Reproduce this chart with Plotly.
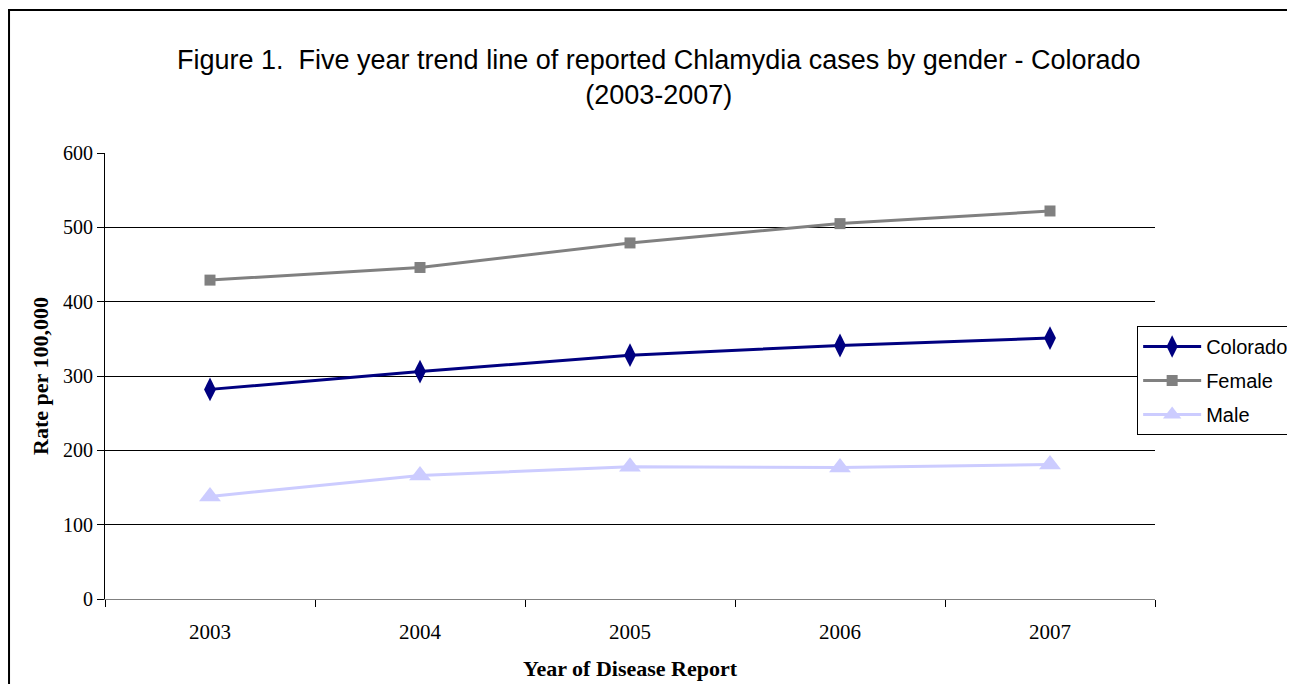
import plotly.graph_objects as go

years = ["2003", "2004", "2005", "2006", "2007"]
colorado = [282, 306, 328, 341, 351]
female = [429, 446, 479, 505, 522]
male = [138, 166, 178, 177, 181]

fig = go.Figure()

# Colorado - diamantes azul-marinho
fig.add_trace(go.Scatter(
    x=years, y=colorado, name="Colorado", mode="lines+markers", legendgroup="c",
    line=dict(color="#000080", width=3),
    marker=dict(symbol="diamond-tall", size=17, color="#000080"),
))

# Female - quadrados cinza
fig.add_trace(go.Scatter(
    x=years, y=female, name="Female", mode="lines+markers", legendgroup="f",
    line=dict(color="#808080", width=3),
    marker=dict(symbol="square", size=11, color="#808080"),
))

# Male - triangulos lilás claro
fig.add_trace(go.Scatter(
    x=years, y=male, name="Male", mode="lines+markers", legendgroup="m",
    line=dict(color="#CCCCFF", width=3),
    marker=dict(symbol="triangle-up", size=19, color="#CCCCFF"),
))

times = "Liberation Serif, Times New Roman, serif"
arial = "Liberation Sans, Arial, sans-serif"

fig.update_layout(
    width=1279,
    height=676,
    template="simple_white",
    paper_bgcolor="white",
    plot_bgcolor="white",
    margin=dict(l=97, r=132, t=145, b=85, autoexpand=False),
    showlegend=True,
    xaxis=dict(
        type="category",
        range=[-0.5, 4.5],
        automargin=False,
        tickson="boundaries",
        ticks="outside",
        ticklen=7,
        tickcolor="#000000",
        ticklabelstandoff=14,
        showline=True,
        linecolor="#808080",
        linewidth=1,
        showgrid=False,
        tickfont=dict(family=times, size=21, color="black"),
        title=dict(text="<b>Year of Disease Report</b>",
                   font=dict(family=times, size=22, color="black"), standoff=17),
    ),
    yaxis=dict(
        range=[0, 600],
        automargin=False,
        tickvals=[0, 100, 200, 300, 400, 500, 600],
        ticks="outside",
        ticklen=7,
        tickcolor="#000000",
        showline=True,
        linecolor="#000000",
        linewidth=1,
        showgrid=True,
        gridcolor="#000000",
        gridwidth=1,
        zeroline=False,
        tickfont=dict(family=times, size=20, color="black"),
        title=dict(text="<b>Rate per 100,000</b>",
                   font=dict(family=times, size=22, color="black"), standoff=8),
    ),
    legend=dict(
        x=0.983, y=0.612, xanchor="left", yanchor="top",
        bordercolor="#000000", borderwidth=1, bgcolor="white",
        font=dict(family=arial, size=20, color="black"),
        tracegroupgap=5,
        itemwidth=58,
    ),
)

# Titulo
fig.add_annotation(
    xref="paper", yref="paper", x=0.527, y=1.170, yanchor="middle",
    text="Figure 1.  Five year trend line of reported Chlamydia cases by gender - Colorado<br>(2003-2007)",
    showarrow=False,
    font=dict(family=arial, size=27, color="black"),
)

# Moldura externa
fig.add_shape(
    type="rect", xref="paper", yref="paper",
    x0=-0.0914, x1=1.2, y0=-0.3, y1=1.3206,
    line=dict(color="black", width=2),
    fillcolor="rgba(0,0,0,0)", opacity=1, layer="below",
)

fig.write_html("out.html")
